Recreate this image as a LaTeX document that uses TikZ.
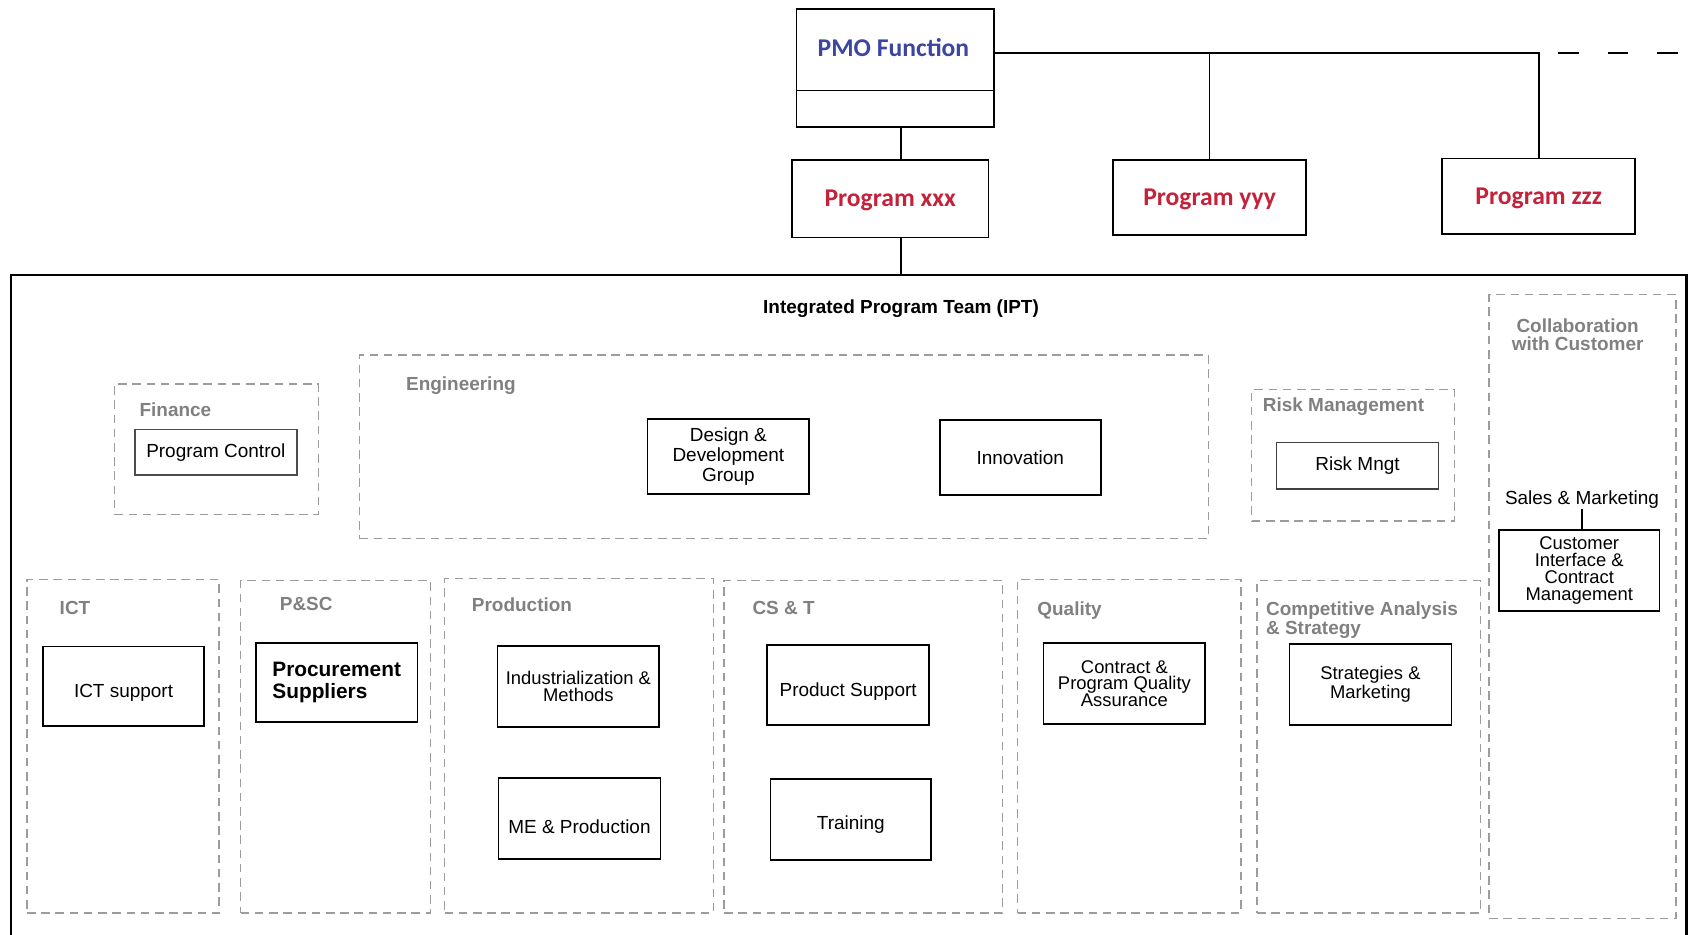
\documentclass[tikz,border=0pt]{standalone}
\usepackage{fontspec}
\setmainfont{Liberation Sans}
\newfontfamily\calfont{Carlito}
\definecolor{pmoblue}{HTML}{3C46A0}
\definecolor{progred}{HTML}{C4213B}
\definecolor{grpline}{HTML}{9C9C9C}
\definecolor{grptext}{HTML}{808080}
\begin{document}
\begin{tikzpicture}[x=0.02cm,y=-0.02cm,
  topbox/.style={draw=black,line width=0.9pt,minimum width=3.6cm,minimum height=1.42cm,inner sep=0pt},
  progtext/.style={text=progred,font=\calfont\bfseries\fontsize{13.5}{15}\selectfont,text depth=0pt},
  grp/.style={draw=grpline,line width=0.75pt,dash pattern=on 4.5pt off 3pt,inner sep=0pt},
  grplabel/.style={text=grptext,font=\bfseries\fontsize{10}{11}\selectfont,inner sep=0pt},
  unit/.style={draw=black,line width=0.9pt,minimum width=3cm,minimum height=1.49cm,inner sep=1pt,align=center,font=\fontsize{10}{10.5}\selectfont},
  tight/.style={font=\fontsize{9.7}{8.9}\selectfont},
  sinkby/.style={text height=#1,text depth=2.2pt},
  link/.style={draw=black,line width=0.8pt}]
\useasboundingbox (0,0) rectangle (1568,866);

% ---- programme level ----
\node[topbox,minimum width=3.66cm,minimum height=2.2cm] (pmo) at (829.5,63) {};
\node[text=pmoblue,font=\calfont\bfseries\fontsize{13.5}{15}\selectfont] (pmotxt) at (828,44) {PMO Function};
\coordinate (div) at (0,84);
\draw[link] (pmo.west |- div) -- (pmo.east |- div);

\node[topbox,minimum width=3.64cm,minimum height=1.44cm,progtext] (xxx) at (825,184) {Program xxx};
\node[topbox,minimum width=3.58cm,minimum height=1.4cm,progtext] (yyy) at (1121,183) {Program yyy};
\node[topbox,minimum width=3.58cm,minimum height=1.4cm,progtext] (zzz) at (1426,182) {Program zzz};

\coordinate (bus) at (1426,49);
\coordinate (busmore) at (1444,49);
\coordinate (busend) at (1560,49);
\coordinate (spine) at (835,0);
\draw[link] (pmo.east |- bus) -- (bus) -- (zzz.north);
\draw[link] (yyy.north) -- (yyy.north |- bus);
\draw[link,dash pattern=on 0.38cm off 0.54cm] (busmore) -- (busend);
\draw[link] (pmo.south -| spine) -- (xxx.north -| spine);

% ---- integrated program team ----
\node[draw=black,line width=1.1pt,minimum width=31.06cm,minimum height=12.5cm,inner sep=0pt] (ipt) at (786.5,567.5) {};
\draw[link] (xxx.south -| spine) -- (ipt.north -| spine);
\node[font=\bfseries\fontsize{10}{11}\selectfont] (ipttitle) at (835,286) {Integrated Program Team (IPT)};

% functional groups
\node[grp,minimum width=3.78cm,minimum height=2.42cm] (fin) at (200.5,416.5) {};
\node[grp,minimum width=15.74cm,minimum height=3.4cm] (eng) at (726.5,414) {};
\node[grp,minimum width=3.76cm,minimum height=2.44cm] (risk) at (1254,422) {};
\node[grp,minimum width=3.46cm,minimum height=11.56cm] (collab) at (1466.5,562) {};
\node[grp,minimum width=3.56cm,minimum height=6.18cm] (ict) at (114,691.5) {};
\node[grp,minimum width=3.52cm,minimum height=6.16cm] (psc) at (311,692) {};
\node[grp,minimum width=4.98cm,minimum height=6.2cm] (prod) at (536.5,691) {};
\node[grp,minimum width=5.16cm,minimum height=6.16cm] (cst) at (800,692) {};
\node[grp,minimum width=4.14cm,minimum height=6.18cm] (qual) at (1046.5,691.5) {};
\node[grp,minimum width=4.14cm,minimum height=6.16cm] (comp) at (1268.5,692) {};

\node[grplabel,anchor=west] (finlbl) at (129,380) {Finance};
\node[grplabel,anchor=west] (englbl) at (376,357) {Engineering};
\node[grplabel,anchor=west] (risklbl) at (1170,377) {Risk Management};
\node[grplabel,align=center,font=\bfseries\fontsize{10}{9.6}\selectfont] (collablbl) at (1462,310) {Collaboration\\with Customer};
\node[grplabel,anchor=west] (ictlbl) at (55,563) {ICT};
\node[grplabel,anchor=west] (psclbl) at (259,560) {P\&SC};
\node[grplabel,anchor=west] (prodlbl) at (437,560) {Production};
\node[grplabel,anchor=west] (cstlbl) at (697,563) {CS \& T};
\node[grplabel,anchor=west] (quallbl) at (961,566) {Quality};
\node[grplabel,anchor=west,align=left,font=\bfseries\fontsize{10}{9}\selectfont] (complbl) at (1173,575) {Competitive Analysis\\\& Strategy};

% units
\node[unit,draw=black!70,minimum height=0.84cm] (pc) at (200,419) {Program Control};
\node[unit,minimum height=1.4cm] (ddg) at (675,423) {Design \&\\Development\\Group};
\node[unit,minimum width=2.98cm,minimum height=1.4cm] (inno) at (945.5,424) {Innovation};
\node[unit,draw=black!75,minimum height=0.86cm] (rm) at (1258,431.5) {Risk Mngt};
\node[inner sep=0pt,font=\fontsize{10}{11}\selectfont] (sales) at (1466,463) {Sales \& Marketing};
\node[unit,tight,minimum width=2.98cm,minimum height=1.5cm] (cust) at (1463.5,528.5) {Customer\\Interface \&\\Contract\\Management};
\draw[link] (sales.south) -- (sales.south |- cust.north);

\node[unit,sinkby=14pt,minimum width=2.98cm,minimum height=1.48cm] (icts) at (114.5,636) {ICT support};
\node[unit,align=left,minimum height=1.46cm,font=\bfseries\fontsize{11}{11.3}\selectfont] (proc) at (312,632.5) {Procurement\\Suppliers};
\node[unit,tight,minimum height=1.5cm] (ind) at (536,636) {Industrialization \&\\Methods};
\node[unit,sinkby=18.5pt,minimum height=1.5cm] (mep) at (537,758.5) {ME \& Production};
\node[unit,sinkby=14pt,minimum height=1.48cm] (ps) at (786,635) {Product Support};
\node[unit,sinkby=13pt,minimum width=2.98cm,minimum height=1.5cm] (tr) at (788.5,759.5) {Training};
\node[unit,tight,minimum height=1.5cm] (cpq) at (1042,633.5) {Contract \&\\Program Quality\\Assurance};
\node[unit,tight,minimum height=1.5cm] (sm) at (1270,634.5) {Strategies \&\\Marketing};
\end{tikzpicture}
\end{document}
